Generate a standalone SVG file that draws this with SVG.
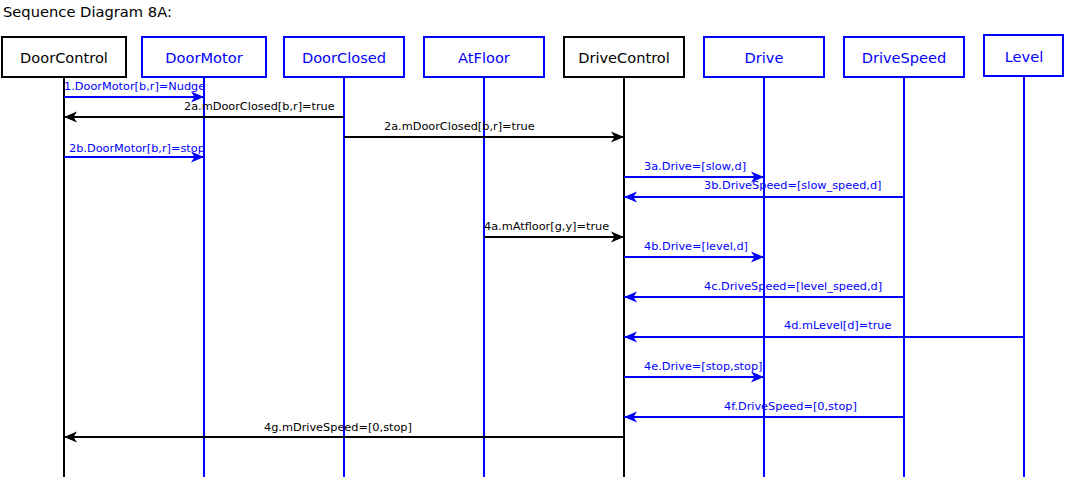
<svg xmlns="http://www.w3.org/2000/svg" width="1065" height="477" viewBox="0 0 1065 477">
<style>
.bg{fill:#fff}
.box{fill:#fff;stroke-width:2}
.k{stroke:#000}
.b{stroke:#0000ff}
.life{stroke-width:2;fill:none}
.lbl{font-family:"DejaVu Sans",sans-serif;font-size:14.6px;text-anchor:middle}
.title{font-family:"DejaVu Sans",sans-serif;font-size:14.7px;fill:#000}
.msg{font-family:"DejaVu Sans",sans-serif;font-size:11.3px}
.tk{fill:#000}
.tb{fill:#0000ff}
.ln{stroke-width:2;fill:none}
</style>
<defs>
<marker id="ak" markerUnits="userSpaceOnUse" markerWidth="14" markerHeight="12" viewBox="0 -6 14 12" refX="13" refY="0" orient="auto">
<path d="M0,-5.5 L13,0 L0,5.5 L3.5,0 Z" fill="#000"/>
</marker>
<marker id="ab" markerUnits="userSpaceOnUse" markerWidth="14" markerHeight="12" viewBox="0 -6 14 12" refX="13" refY="0" orient="auto">
<path d="M0,-5.5 L13,0 L0,5.5 L3.5,0 Z" fill="#0000ff"/>
</marker>
</defs>
<rect class="bg" x="0" y="0" width="1065" height="477"/>
<text class="title" x="3" y="17">Sequence Diagram 8A:</text>

<g id="DoorControl">
<line class="life k" x1="64" y1="77" x2="64" y2="477"/>
<rect class="box k" x="2" y="37" width="124" height="40"/>
<text class="lbl tk" x="64" y="62.5">DoorControl</text>
</g>
<g id="DoorMotor">
<line class="life b" x1="204" y1="77" x2="204" y2="477"/>
<rect class="box b" x="142" y="37" width="124" height="40"/>
<text class="lbl tb" x="204" y="62.5">DoorMotor</text>
</g>
<g id="DoorClosed">
<line class="life b" x1="344" y1="77" x2="344" y2="477"/>
<rect class="box b" x="284" y="37" width="120" height="40"/>
<text class="lbl tb" x="344" y="62.5">DoorClosed</text>
</g>
<g id="AtFloor">
<line class="life b" x1="484" y1="77" x2="484" y2="477"/>
<rect class="box b" x="424" y="37" width="120" height="40"/>
<text class="lbl tb" x="484" y="62.5">AtFloor</text>
</g>
<g id="DriveControl">
<line class="life k" x1="624" y1="77" x2="624" y2="477"/>
<rect class="box k" x="564" y="37" width="120" height="40"/>
<text class="lbl tk" x="624" y="62.5">DriveControl</text>
</g>
<g id="Drive">
<line class="life b" x1="764" y1="77" x2="764" y2="477"/>
<rect class="box b" x="704" y="37" width="120" height="40"/>
<text class="lbl tb" x="764" y="62.5">Drive</text>
</g>
<g id="DriveSpeed">
<line class="life b" x1="904" y1="77" x2="904" y2="477"/>
<rect class="box b" x="844" y="37" width="120" height="40"/>
<text class="lbl tb" x="904" y="62.5">DriveSpeed</text>
</g>
<g id="Level">
<line class="life b" x1="1024" y1="77" x2="1024" y2="477"/>
<rect class="box b" x="984" y="35" width="79" height="41"/>
<text class="lbl tb" x="1024" y="62">Level</text>
</g>

<g id="connectors">
<line class="ln b" x1="64" y1="97" x2="204" y2="97" marker-end="url(#ab)"/>
<text class="msg tb" x="64" y="90">1.DoorMotor[b,r]=Nudge</text>

<line class="ln k" x1="344" y1="117" x2="64" y2="117" marker-end="url(#ak)"/>
<text class="msg tk" x="184" y="110">2a.mDoorClosed[b,r]=true</text>

<line class="ln k" x1="344" y1="137" x2="624" y2="137" marker-end="url(#ak)"/>
<text class="msg tk" x="384" y="130">2a.mDoorClosed[b,r]=true</text>

<line class="ln b" x1="64" y1="157" x2="204" y2="157" marker-end="url(#ab)"/>
<text class="msg tb" x="69" y="152">2b.DoorMotor[b,r]=stop</text>

<line class="ln b" x1="624" y1="177" x2="764" y2="177" marker-end="url(#ab)"/>
<text class="msg tb" x="644" y="170">3a.Drive=[slow,d]</text>

<line class="ln b" x1="904" y1="197" x2="624" y2="197" marker-end="url(#ab)"/>
<text class="msg tb" x="704" y="189">3b.DriveSpeed=[slow_speed,d]</text>

<line class="ln k" x1="484" y1="237" x2="624" y2="237" marker-end="url(#ak)"/>
<text class="msg tk" x="484" y="230">4a.mAtfloor[g,y]=true</text>

<line class="ln b" x1="624" y1="257" x2="764" y2="257" marker-end="url(#ab)"/>
<text class="msg tb" x="644" y="250">4b.Drive=[level,d]</text>

<line class="ln b" x1="904" y1="297" x2="624" y2="297" marker-end="url(#ab)"/>
<text class="msg tb" x="704" y="290">4c.DriveSpeed=[level_speed,d]</text>

<line class="ln b" x1="1024" y1="337" x2="624" y2="337" marker-end="url(#ab)"/>
<text class="msg tb" x="784" y="329">4d.mLevel[d]=true</text>

<line class="ln b" x1="624" y1="377" x2="764" y2="377" marker-end="url(#ab)"/>
<text class="msg tb" x="644" y="370">4e.Drive=[stop,stop]</text>

<line class="ln b" x1="904" y1="417" x2="624" y2="417" marker-end="url(#ab)"/>
<text class="msg tb" x="724" y="410">4f.DriveSpeed=[0,stop]</text>

<line class="ln k" x1="624" y1="437" x2="64" y2="437" marker-end="url(#ak)"/>
<text class="msg tk" x="264" y="431">4g.mDriveSpeed=[0,stop]</text>
</g>
</svg>
